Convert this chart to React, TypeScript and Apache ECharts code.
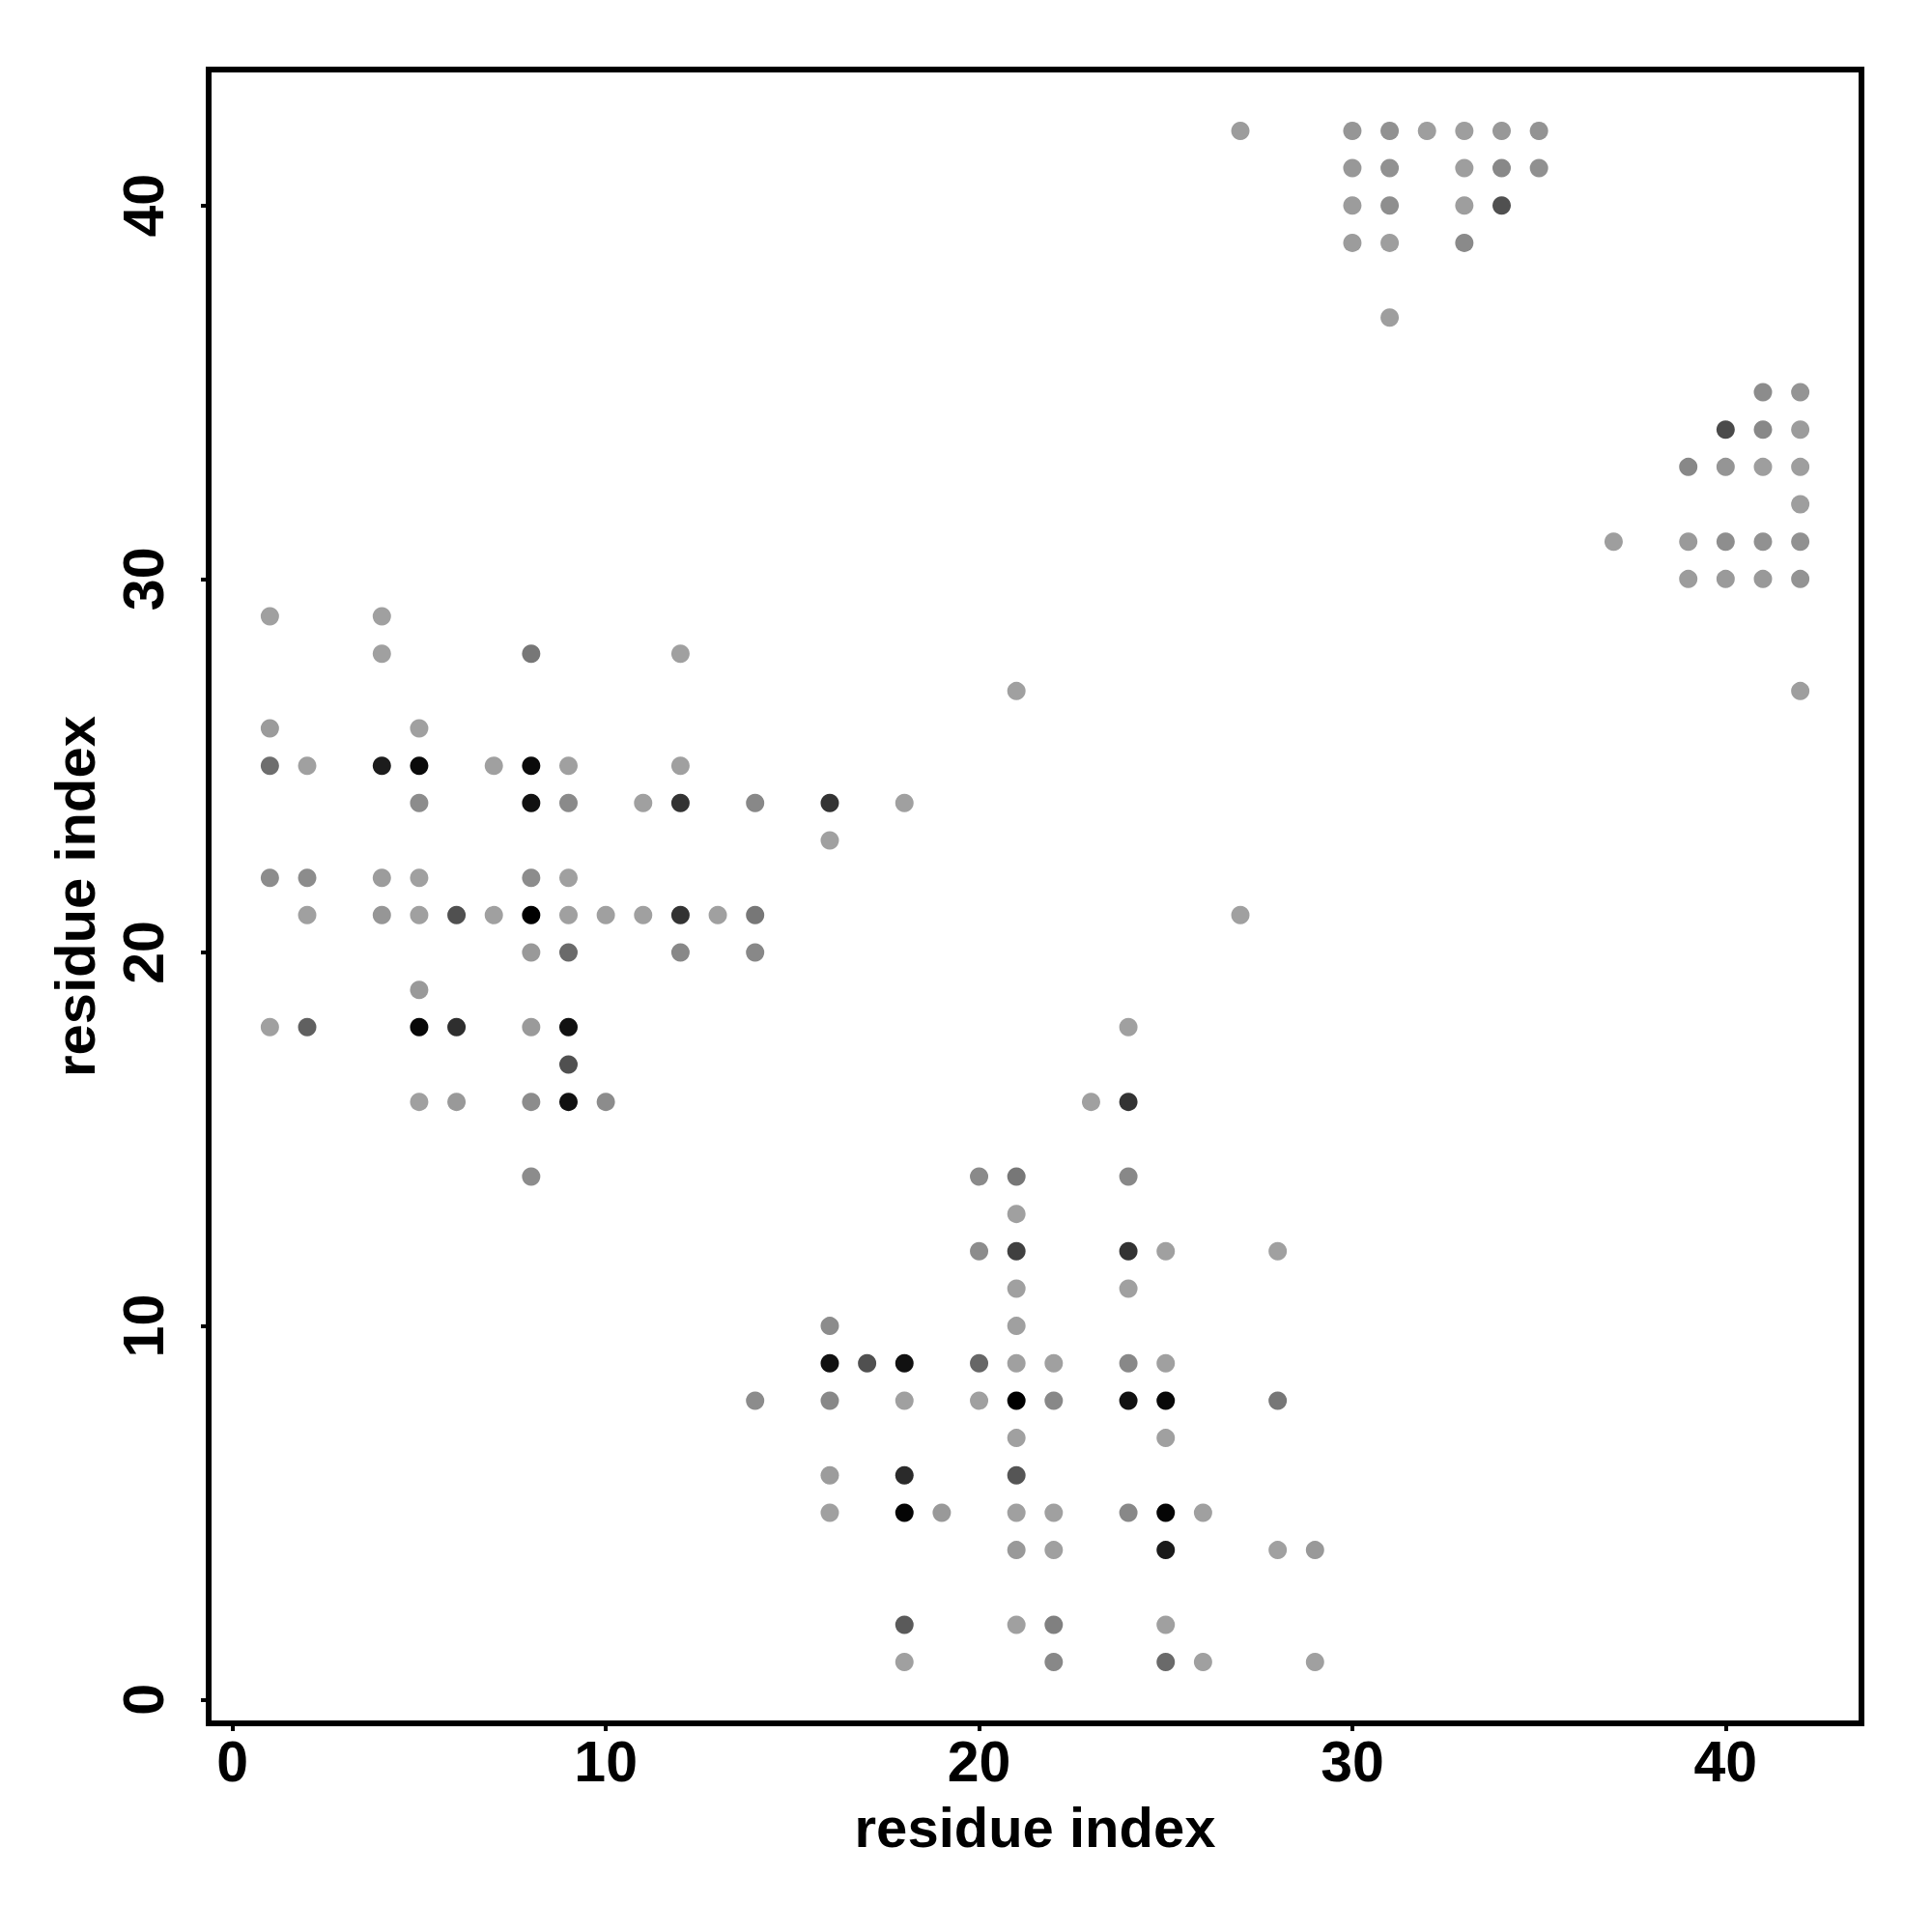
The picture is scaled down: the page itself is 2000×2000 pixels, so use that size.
import React, { useEffect, useRef } from "react";
import * as echarts from "echarts";

// [x residue, y residue, gray level 0-255]
const leftCluster: number[][] = [
  [1, 29, 160], [4, 29, 160],
  [4, 28, 160], [8, 28, 119], [12, 28, 160],
  [1, 26, 155], [5, 26, 160],
  [1, 25, 110], [2, 25, 160], [4, 25, 28], [5, 25, 10], [7, 25, 160], [8, 25, 10], [9, 25, 160], [12, 25, 160],
  [5, 24, 140], [8, 24, 17], [9, 24, 138], [11, 24, 160], [12, 24, 51], [14, 24, 136], [16, 24, 51], [18, 24, 160],
  [16, 23, 160],
  [1, 22, 140], [2, 22, 140], [4, 22, 156], [5, 22, 160], [8, 22, 140], [9, 22, 160],
  [2, 21, 160], [4, 21, 150], [5, 21, 160], [6, 21, 80], [7, 21, 160], [8, 21, 0], [9, 21, 160], [10, 21, 160], [11, 21, 160], [12, 21, 51], [13, 21, 160], [14, 21, 119],
  [8, 20, 153], [9, 20, 106], [12, 20, 136], [14, 20, 136],
  [5, 19, 153],
  [1, 18, 160], [2, 18, 96], [5, 18, 8], [6, 18, 46], [8, 18, 154], [9, 18, 17],
  [9, 17, 80],
  [5, 16, 160], [6, 16, 153], [8, 16, 140], [9, 16, 17], [10, 16, 140],
  [8, 14, 140],
];

const bottomCluster: number[][] = [
  [14, 8, 140],
  [16, 10, 140], [16, 9, 17], [16, 8, 136], [16, 6, 156], [16, 5, 160],
  [17, 9, 80],
  [18, 9, 17], [18, 8, 160], [18, 6, 42], [18, 5, 5], [18, 2, 90], [18, 1, 160],
  [19, 5, 153],
  [20, 14, 138], [20, 12, 140], [20, 9, 102], [20, 8, 160],
  [21, 14, 119], [21, 13, 160], [21, 12, 64], [21, 11, 160], [21, 10, 160], [21, 9, 160], [21, 8, 0], [21, 7, 160], [21, 6, 85], [21, 5, 160], [21, 4, 153], [21, 2, 160],
  [22, 9, 160], [22, 8, 136], [22, 5, 160], [22, 4, 160], [22, 2, 128], [22, 1, 136],
  [23, 16, 160],
  [24, 18, 160], [24, 16, 51], [24, 14, 136], [24, 12, 51], [24, 11, 160], [24, 9, 136], [24, 8, 17], [24, 5, 136],
  [25, 12, 160], [25, 9, 160], [25, 8, 8], [25, 7, 160], [25, 5, 5], [25, 4, 26], [25, 2, 160], [25, 1, 106],
  [26, 5, 160], [26, 1, 160],
  [28, 12, 160], [28, 8, 119], [28, 4, 160],
  [29, 4, 153], [29, 1, 160],
];

const isolated: number[][] = [
  [21, 27, 160], [27, 21, 160],
];

const topCluster: number[][] = [
  [27, 42, 156], [30, 42, 150], [31, 42, 145], [32, 42, 158], [33, 42, 158], [34, 42, 152], [35, 42, 147],
  [30, 41, 152], [31, 41, 145], [33, 41, 158], [34, 41, 136], [35, 41, 144],
  [30, 40, 156], [31, 40, 142], [33, 40, 158], [34, 40, 80],
  [30, 39, 156], [31, 39, 158], [33, 39, 138],
  [31, 37, 158],
];

const rightCluster: number[][] = [
  [41, 35, 140], [42, 35, 148],
  [40, 34, 74], [41, 34, 136], [42, 34, 156],
  [39, 33, 136], [40, 33, 149], [41, 33, 158], [42, 33, 158],
  [42, 32, 158],
  [37, 31, 158], [39, 31, 154], [40, 31, 142], [41, 31, 145], [42, 31, 145],
  [39, 30, 156], [40, 30, 154], [41, 30, 153], [42, 30, 147],
  [42, 27, 158],
];

const tickValues = [0, 10, 20, 30, 40];
const axisTitle = "residue index";

const FONT = "'Liberation Sans', Arial, Helvetica, sans-serif";

function toItems(arr: number[][]) {
  return arr.map(([x, y, g]) => ({
    value: [x, y],
    itemStyle: { color: `rgb(${g},${g},${g})` },
  }));
}

export default function App() {
  const ref = useRef<HTMLDivElement>(null);
  useEffect(() => {
    if (!ref.current) return;
    const chart = echarts.init(ref.current, undefined, { renderer: "svg" });
    const all = [...leftCluster, ...bottomCluster, ...isolated, ...topCluster, ...rightCluster];
    const axisCommon = {
      type: "value" as const,
      min: -0.64,
      max: 43.64,
      splitLine: { show: false },
      axisLine: { show: true, onZero: false, lineStyle: { color: "#000", width: 6 } },
      axisTick: {
        show: true,
        length: 8,
        customValues: tickValues,
        lineStyle: { color: "#000", width: 4 },
      },
      nameLocation: "middle" as const,
      name: axisTitle,
      nameTextStyle: { fontFamily: FONT, fontWeight: "bold" as const, fontSize: 58, color: "#000" },
    };
    chart.setOption({
      animation: false,
      backgroundColor: "#fff",
      grid: {
        left: 216,
        top: 72,
        width: 1711,
        height: 1712,
        show: true,
        borderColor: "#000",
        borderWidth: 6,
        backgroundColor: "transparent",
      },
      xAxis: {
        ...axisCommon,
        nameGap: 78,
        axisLabel: {
          customValues: tickValues,
          fontFamily: FONT,
          fontWeight: "bold",
          fontSize: 59,
          color: "#000",
          margin: 10,
        },
      },
      yAxis: {
        ...axisCommon,
        nameGap: 110,
        axisLabel: {
          customValues: tickValues,
          fontFamily: FONT,
          fontWeight: "bold",
          fontSize: 59,
          color: "#000",
          rotate: 90,
          margin: 38,
        },
      },
      series: [
        {
          type: "scatter",
          symbol: "circle",
          symbolSize: 19,
          data: toItems(all),
          itemStyle: { opacity: 1 },
        },
      ],
    });
    return () => chart.dispose();
  }, []);
  return (
    <div
      ref={ref}
      style={{ position: "fixed", left: 0, top: 0, width: 2000, height: 2000, background: "#fff" }}
    />
  );
}
